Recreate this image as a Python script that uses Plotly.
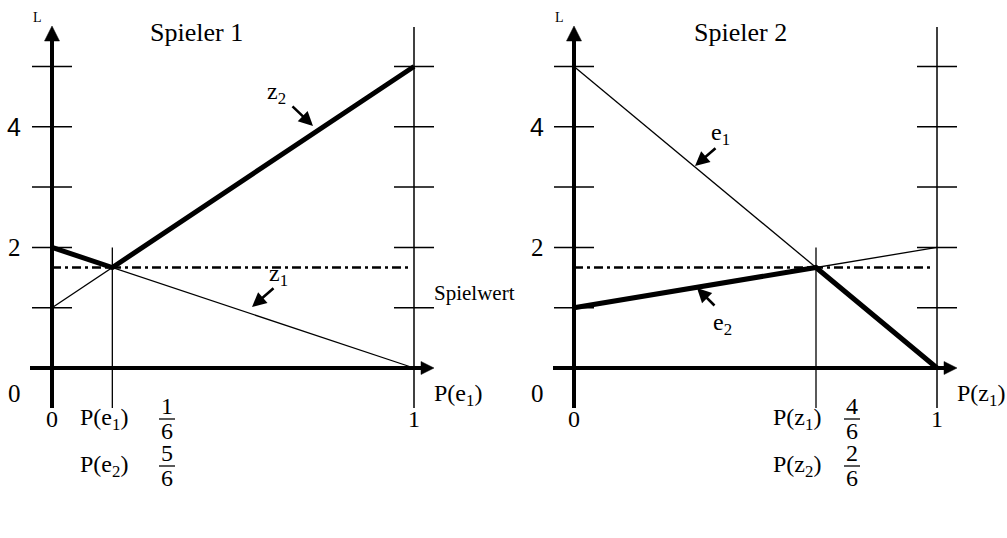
import plotly.graph_objects as go

# ---------------- data ----------------
p_left = [0, 1/6, 1]          # P(e1)
z1 = [2, 5/3, 0]
z2 = [1, 5/3, 5]
q_right = [0, 4/6, 1]         # P(z1)
e1 = [5, 5/3, 0]
e2 = [1, 5/3, 2]
spielwert = 5/3
p_star = 1/6
q_star = 4/6
y_ticks = [1, 2, 3, 4, 5]
y_labels = [(4, "4", "Liberation Sans"), (2, "2", "Liberation Serif"), (0, "0", "Liberation Serif")]
frac_left = [("P(e<sub>1</sub>)", "1", "6"), ("P(e<sub>2</sub>)", "5", "6")]
frac_right = [("P(z<sub>1</sub>)", "4", "6"), ("P(z<sub>2</sub>)", "2", "6")]

# ---------------- geometry ----------------
W, H = 1007, 538
PY0, PYU = 368, 60.3
panels = [
    dict(px0=52, pxu=362, dom=[0, 0.5], xa="x", ya="y"),
    dict(px0=574, pxu=363, dom=[0.5, 1], xa="x2", ya="y2"),
]
SERIF = "Liberation Serif"
BLACK = "black"


def X(pn, px):
    return (px - pn["px0"]) / pn["pxu"]


def Y(py):
    return (PY0 - py) / PYU


fig = go.Figure()
shapes = []
ann = []


def line(pn, x0, y0, x1, y1, w):
    shapes.append(dict(type="line", xref=pn["xa"], yref=pn["ya"], x0=x0, y0=y0, x1=x1, y1=y1,
                       line=dict(color=BLACK, width=w), layer="above"))


def tri(pn, pts):
    path = "M " + " L ".join(f"{a},{b}" for a, b in pts) + " Z"
    shapes.append(dict(type="path", xref=pn["xa"], yref=pn["ya"], path=path,
                       fillcolor=BLACK, line=dict(color=BLACK, width=0.5), layer="above"))


def text(pn, px, py, s, size=24, family=SERIF, xanchor="center"):
    ann.append(dict(xref=pn["xa"], yref=pn["ya"], x=X(pn, px), y=Y(py), text=s, showarrow=False,
                    xanchor=xanchor, yanchor="middle", font=dict(family=family, size=size, color=BLACK)))


def arrow(pn, tail, tip):
    ann.append(dict(xref=pn["xa"], yref=pn["ya"], axref=pn["xa"], ayref=pn["ya"],
                    x=X(pn, tip[0]), y=Y(tip[1]), ax=X(pn, tail[0]), ay=Y(tail[1]),
                    text="", showarrow=True, arrowhead=2, arrowsize=1.1, arrowwidth=2.6,
                    arrowcolor=BLACK, standoff=0, startstandoff=0))


def axes_frame(pn, star, xlabel, arrow_tip_px, x_start_px, ylab_px):
    ux = 1 / pn["pxu"]
    uy = 1 / PYU
    # vertical L axis
    line(pn, 0, Y(408), 0, Y(40), 4)
    tri(pn, [(0, Y(26)), (-7.5 * ux, Y(41)), (7.5 * ux, Y(41))])
    # horizontal axis
    line(pn, X(pn, x_start_px), 0, X(pn, arrow_tip_px) - 10 * ux, 0, 4)
    tri(pn, [(X(pn, arrow_tip_px), 0), (X(pn, arrow_tip_px) - 13 * ux, 6.5 * uy),
             (X(pn, arrow_tip_px) - 13 * ux, -6.5 * uy)])
    # right boundary line at 1
    line(pn, 1, Y(408), 1, Y(27), 1.5)
    for t in y_ticks:
        line(pn, -20 * ux, t, 20 * ux, t, 1.5)
        line(pn, 1 - 20 * ux, t, 1 + 20 * ux, t, 1.5)
    # vertical line at optimum
    line(pn, star, 2, star, Y(408), 1.3)
    # labels on y axis
    for v, s, fam in y_labels:
        py = PY0 - v * PYU if v != 0 else 393
        text(pn, ylab_px, py, s, size=25, family=fam)
    text(pn, pn["px0"] - 15, 17, "L", size=14)
    # x-axis right label
    text(pn, arrow_tip_px - 2, 395, xlabel, xanchor="left")
    # under-axis 0 and 1
    text(pn, pn["px0"], 419, "0")
    text(pn, pn["px0"] + pn["pxu"], 419, "1")


# ---------------- traces ----------------
for pn, xs, a, b, fn in [(panels[0], p_left, z1, z2, max), (panels[1], q_right, e1, e2, min)]:
    for ys in (a, b):
        fig.add_trace(go.Scatter(x=xs, y=ys, mode="lines", line=dict(color=BLACK, width=1.3),
                                 xaxis=pn["xa"], yaxis=pn["ya"], showlegend=False, hoverinfo="skip"))
    env = [fn(u, v) for u, v in zip(a, b)]
    fig.add_trace(go.Scatter(x=xs, y=env, mode="lines", line=dict(color=BLACK, width=5),
                             xaxis=pn["xa"], yaxis=pn["ya"], showlegend=False, hoverinfo="skip"))

# Spielwert dash-dot lines
for pn, end_px in [(panels[0], 408), (panels[1], 932)]:
    fig.add_trace(go.Scatter(x=[0, X(pn, end_px)], y=[spielwert, spielwert], mode="lines",
                             line=dict(color=BLACK, width=2.5, dash="9px,4px,3px,4px"),
                             xaxis=pn["xa"], yaxis=pn["ya"], showlegend=False, hoverinfo="skip"))

L, R = panels
axes_frame(L, p_star, "P(e<sub>1</sub>)", 434, 30, 14)
axes_frame(R, q_star, "P(z<sub>1</sub>)", 957, 553, 537)

# titles
text(L, 196, 32, "Spieler 1", size=26)
text(R, 740, 32, "Spieler 2", size=26)
text(L, 432, 293, "Spielwert", size=21, xanchor="left")

# curve labels and pointers
text(L, 276, 93, "z<sub>2</sub>")
arrow(L, (291, 105), (313, 126))
text(L, 278, 275, "z<sub>1</sub>")
arrow(L, (275, 287), (252, 307))
text(R, 720, 134, "e<sub>1</sub>")
arrow(R, (717, 147), (695, 166))
text(R, 722, 324, "e<sub>2</sub>")
arrow(R, (716, 307), (697, 288))

# probability fractions
for pn, rows, lab_px, frac_px in [(L, frac_left, 104, 167), (R, frac_right, 797, 852)]:
    for i, (lab, num, den) in enumerate(rows):
        base = 419 + i * 47
        text(pn, lab_px, base, lab)
        text(pn, frac_px, base - 13, num)
        text(pn, frac_px, base + 12, den)
        line(pn, X(pn, frac_px - 8), Y(base), X(pn, frac_px + 8), Y(base), 1.3)

# ---------------- layout ----------------
layout = dict(width=W, height=H, margin=dict(l=0, r=0, t=0, b=0), plot_bgcolor="white",
              paper_bgcolor="white", shapes=shapes, annotations=ann, showlegend=False)
yr = [-(H - PY0) / PYU, PY0 / PYU]
for i, pn in enumerate(panels):
    sfx = "" if i == 0 else "2"
    d0, d1 = pn["dom"]
    layout["xaxis" + sfx] = dict(domain=pn["dom"], range=[X(pn, d0 * W), X(pn, d1 * W)], visible=False,
                                 fixedrange=True, anchor="y" + sfx)
    layout["yaxis" + sfx] = dict(domain=[0, 1], range=yr, visible=False, fixedrange=True,
                                 anchor="x" + sfx)
fig.update_layout(**layout)
fig.write_html("out.html", config={"displayModeBar": False},
               post_script="document.body.style.margin='0';document.body.style.overflow='hidden';")
